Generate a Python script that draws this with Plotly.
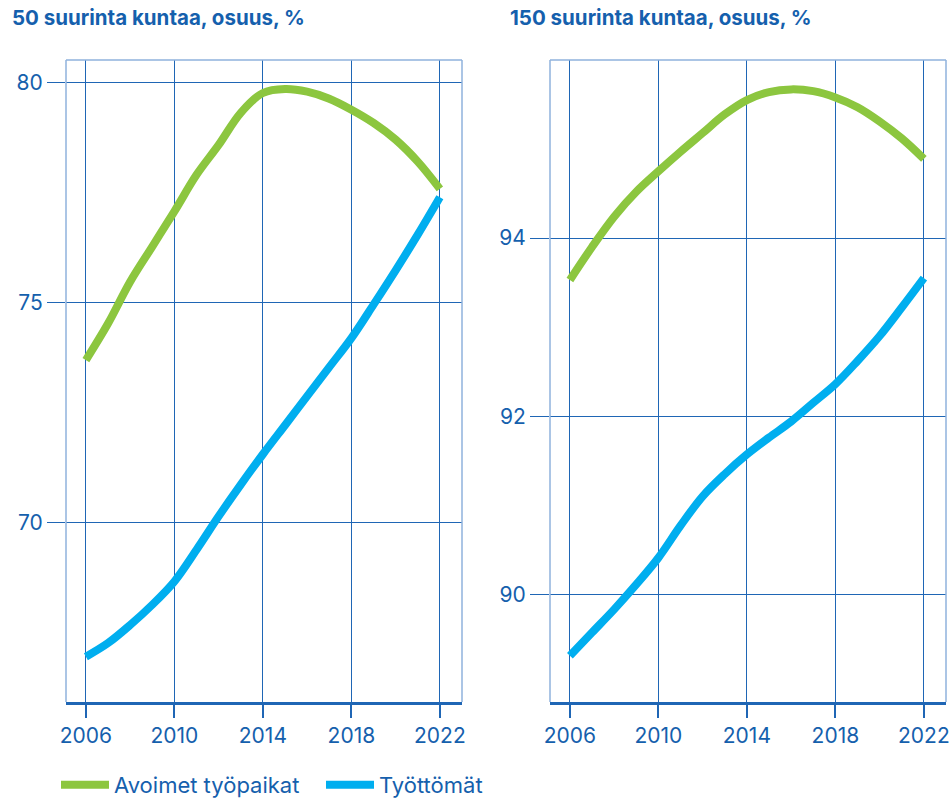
import plotly.graph_objects as go
from plotly.subplots import make_subplots

years = list(range(2006, 2023))

# 50 suurinta kuntaa
avoimet_50 = [73.70, 74.53, 75.48, 76.28, 77.08, 77.91, 78.59, 79.32, 79.77,
              79.86, 79.80, 79.64, 79.39, 79.09, 78.71, 78.21, 77.59]
tyottomat_50 = [66.96, 67.27, 67.68, 68.14, 68.67, 69.39, 70.15, 70.87, 71.56,
                72.22, 72.88, 73.54, 74.20, 74.96, 75.74, 76.55, 77.40]

# 150 suurinta kuntaa
avoimet_150 = [93.53, 93.90, 94.24, 94.52, 94.75, 94.97, 95.18, 95.39, 95.55,
               95.64, 95.67, 95.65, 95.58, 95.47, 95.31, 95.12, 94.89]
tyottomat_150 = [89.31, 89.57, 89.83, 90.11, 90.41, 90.77, 91.10, 91.35, 91.57,
                 91.76, 91.94, 92.15, 92.36, 92.62, 92.90, 93.22, 93.55]

x_ticks = [2006, 2010, 2014, 2018, 2022]
y_ticks_50 = [70, 75, 80]
y_ticks_150 = [90, 92, 94]

titles = ["50 suurinta kuntaa, osuus, %", "150 suurinta kuntaa, osuus, %"]
series_names = ["Avoimet työpaikat", "Työttömät"]

GREEN = "#8cc63f"
BLUE = "#00aeef"
TEXT = "#1560ad"
GRID = "#1f66b5"
FRAME = "#8fb2dc"
FONT = "Inter"

W, H = 952, 798
fig = make_subplots(rows=1, cols=2)

panels = [(avoimet_50, tyottomat_50), (avoimet_150, tyottomat_150)]
for i, (av, ty) in enumerate(panels, start=1):
    for name, vals, col in ((series_names[0], av, GREEN), (series_names[1], ty, BLUE)):
        fig.add_trace(go.Scatter(
            x=years, y=vals, mode="lines", name=name,
            line=dict(color=col, width=8, shape="spline", smoothing=1.0),
            showlegend=(i == 1), hoverinfo="skip",
        ), row=1, col=i)

top_px, bot_px = 60, 702
ydom = [1 - bot_px / H, 1 - top_px / H]
fig.update_layout(
    xaxis=dict(domain=[66 / W, 462 / W]),
    xaxis2=dict(domain=[550 / W, 946 / W]),
    yaxis=dict(domain=ydom),
    yaxis2=dict(domain=ydom),
)

axis_common = dict(
    showgrid=True, gridcolor=GRID, gridwidth=1, zeroline=False, automargin=False,
    tickfont=dict(family=FONT, size=21, color=TEXT),
)
for c in (1, 2):
    fig.update_xaxes(
        range=[2005.1, 2023.0], tickvals=x_ticks, ticks="outside", ticklen=13,
        tickwidth=2, tickcolor=GRID, showline=True, linecolor=GRID, linewidth=2.5,
        **axis_common, row=1, col=c,
    )
fig.update_yaxes(range=[65.93, 80.52], tickvals=y_ticks_50, ticks="outside",
                 ticklen=18, tickwidth=1, tickcolor=GRID, **axis_common, row=1, col=1)
fig.update_yaxes(range=[88.79, 96.0], tickvals=y_ticks_150, ticks="outside",
                 ticklen=19, tickwidth=1, tickcolor=GRID, **axis_common, row=1, col=2)

# light frame around each plot area (left, top, right)
for xr, yr in (("x domain", "y domain"), ("x2 domain", "y2 domain")):
    for x0, y0, x1, y1 in ((0, 0, 0, 1), (0, 1, 1, 1), (1, 0, 1, 1)):
        fig.add_shape(type="line", xref=xr, yref=yr, x0=x0, y0=y0, x1=x1, y1=y1,
                      line=dict(color=FRAME, width=1.5))

for t, xpx in zip(titles, (10, 508)):
    fig.add_annotation(text=f"<b>{t}</b>", xref="paper", yref="paper",
                       x=xpx / W, y=1 - 18 / H, xanchor="left", yanchor="middle",
                       showarrow=False, font=dict(family=FONT, size=20.5, color=TEXT))

fig.update_layout(
    width=W, height=H,
    margin=dict(l=0, r=0, t=0, b=0, autoexpand=False),
    paper_bgcolor="white", plot_bgcolor="white",
    legend=dict(orientation="h", x=56 / W, y=1 - 785 / H, xanchor="left",
                yanchor="middle", font=dict(family=FONT, size=22, color=TEXT),
                itemwidth=48, entrywidth=202, entrywidthmode="pixels",
                bgcolor="rgba(0,0,0,0)"),
)

fig.write_html("out.html")
